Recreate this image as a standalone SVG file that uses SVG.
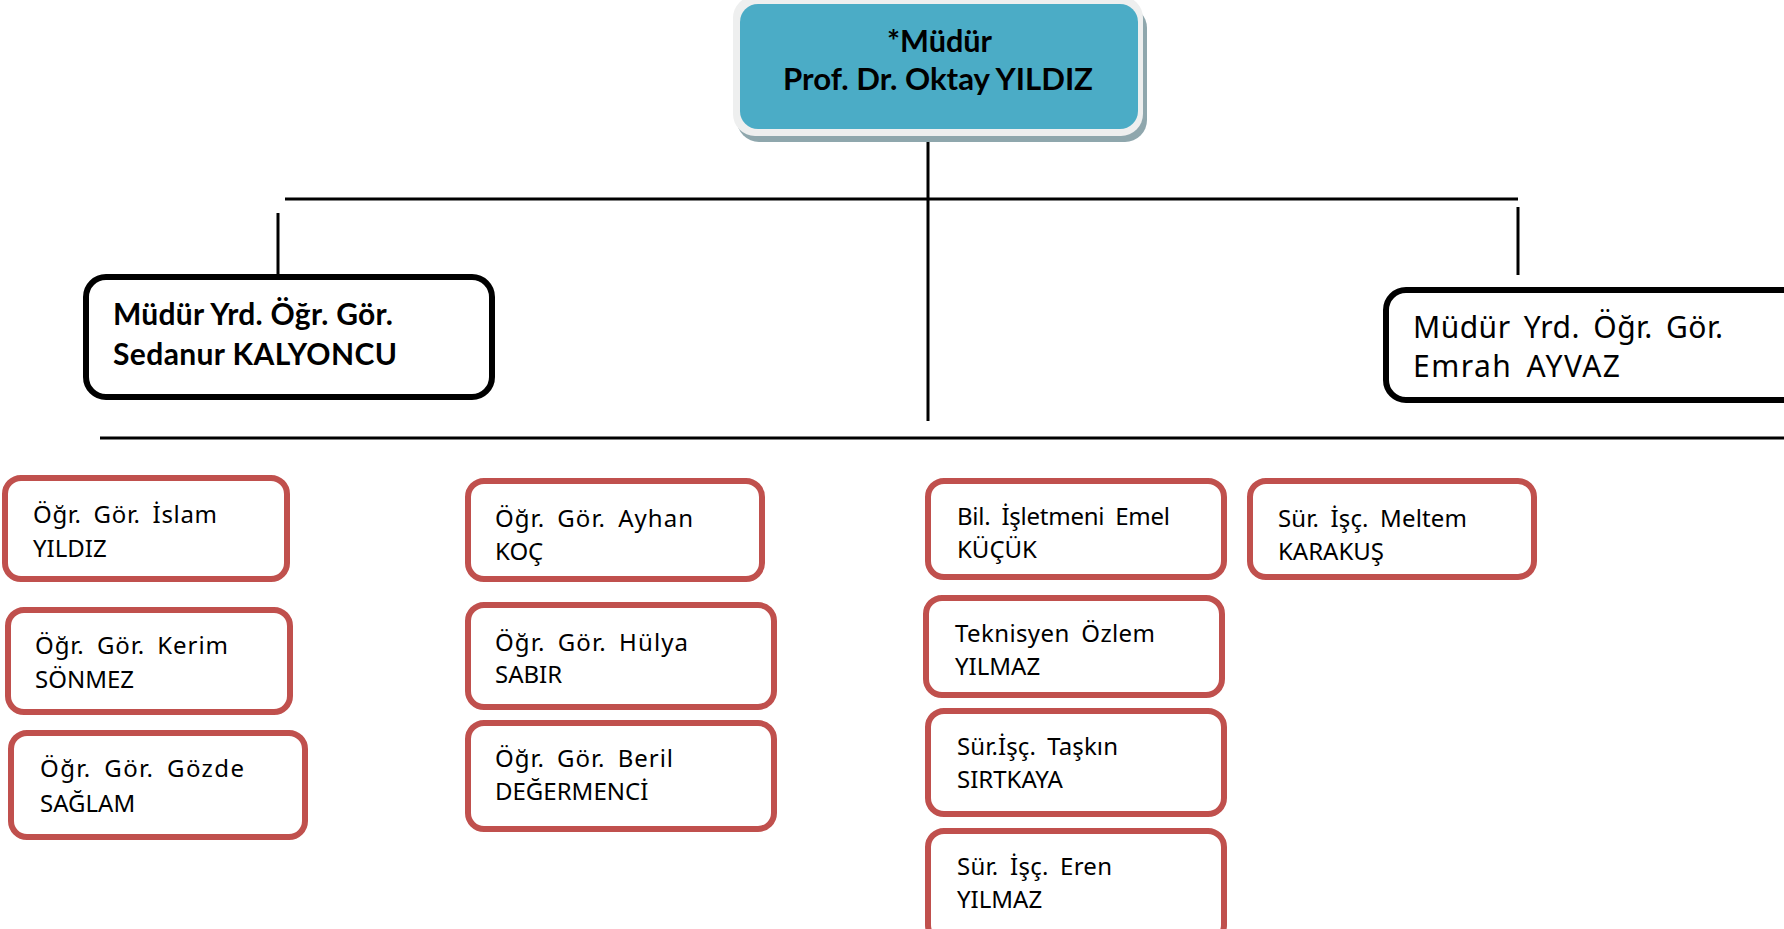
<svg xmlns="http://www.w3.org/2000/svg" width="1784" height="929" viewBox="0 0 1784 929">
<style>
.bg{fill:#ffffff}
.conn line{stroke:#000;stroke-width:3}
.hdr{font-family:"Lato","Liberation Sans",sans-serif;font-weight:bold;font-size:30px;fill:#000}
.yrd{fill:#fff;stroke:#000;stroke-width:6}
.yrdt{font-family:"Lato","Liberation Sans",sans-serif;font-weight:bold;font-size:30px;fill:#000}
.yrdt2{font-family:"Noto Sans","Liberation Sans",sans-serif;font-size:30px;fill:#000;word-spacing:5px}
.box{fill:#fff;stroke:#C0504D;stroke-width:6}
.t{font-family:"Noto Sans","Liberation Sans",sans-serif;font-size:24px;fill:#000;word-spacing:5px}
</style>
<rect class="bg" x="0" y="0" width="1784" height="929"/>
<g id="connectors" class="conn">
<line x1="928" y1="138" x2="928" y2="421"/>
<line x1="285" y1="199" x2="1518" y2="199"/>
<line x1="278" y1="213" x2="278" y2="274"/>
<line x1="1518" y1="207" x2="1518" y2="275"/>
<line x1="100" y1="438" x2="1784" y2="438"/>
</g>
<g id="mudur">
<rect x="737" y="6" width="410" height="136" rx="22" fill="#8FA7AD"/>
<rect x="733" y="-4" width="410" height="140" rx="22" fill="#EEEFEF"/>
<rect x="740" y="4" width="398" height="125" rx="18" fill="#4BACC6"/>
<text class="hdr" x="887" y="52" textLength="105" lengthAdjust="spacingAndGlyphs">*Müdür</text>
<text class="hdr" x="783" y="90" textLength="310" lengthAdjust="spacingAndGlyphs">Prof. Dr. Oktay YILDIZ</text>
</g>
<g id="yrd1">
<rect class="yrd" x="86" y="277" width="406" height="120" rx="20"/>
<text class="yrdt" x="113" y="325" textLength="280">Müdür Yrd. Öğr. Gör.</text>
<text class="yrdt" x="113" y="365" textLength="284">Sedanur KALYONCU</text>
</g>
<g id="yrd2">
<rect class="yrd" x="1386" y="290" width="420" height="110" rx="20"/>
<text class="yrdt2" x="1413" y="338" textLength="310">Müdür Yrd. Öğr. Gör.</text>
<text class="yrdt2" x="1413" y="377" textLength="207">Emrah AYVAZ</text>
</g>
<g id="n1"><rect class="box" x="5" y="478" width="282" height="101" rx="16"/><text class="t" x="33" y="523" textLength="184">Öğr. Gör. İslam</text><text class="t" x="33" y="557">YILDIZ</text></g>
<g id="n2"><rect class="box" x="8" y="610" width="282" height="102" rx="16"/><text class="t" x="35" y="654" textLength="193">Öğr. Gör. Kerim</text><text class="t" x="35" y="688">SÖNMEZ</text></g>
<g id="n3"><rect class="box" x="11" y="733" width="294" height="104" rx="16"/><text class="t" x="40" y="777" textLength="204">Öğr. Gör. Gözde</text><text class="t" x="40" y="812">SAĞLAM</text></g>
<g id="n4"><rect class="box" x="468" y="481" width="294" height="98" rx="16"/><text class="t" x="495" y="527" textLength="198">Öğr. Gör. Ayhan</text><text class="t" x="495" y="560">KOÇ</text></g>
<g id="n5"><rect class="box" x="468" y="605" width="306" height="102" rx="16"/><text class="t" x="495" y="651" textLength="193">Öğr. Gör. Hülya</text><text class="t" x="495" y="683">SABIR</text></g>
<g id="n6"><rect class="box" x="468" y="723" width="306" height="106" rx="16"/><text class="t" x="495" y="767" textLength="178">Öğr. Gör. Beril</text><text class="t" x="495" y="800">DEĞERMENCİ</text></g>
<g id="n7"><rect class="box" x="928" y="481" width="296" height="96" rx="16"/><text class="t" x="957" y="525" textLength="213">Bil. İşletmeni Emel</text><text class="t" x="957" y="558">KÜÇÜK</text></g>
<g id="n8"><rect class="box" x="926" y="598" width="296" height="97" rx="16"/><text class="t" x="955" y="642" textLength="200">Teknisyen Özlem</text><text class="t" x="955" y="675">YILMAZ</text></g>
<g id="n9"><rect class="box" x="928" y="711" width="296" height="103" rx="16"/><text class="t" x="957" y="755" textLength="161">Sür.İşç. Taşkın</text><text class="t" x="957" y="788">SIRTKAYA</text></g>
<g id="n10"><rect class="box" x="928" y="831" width="296" height="110" rx="16"/><text class="t" x="957" y="875" textLength="155">Sür. İşç. Eren</text><text class="t" x="957" y="908">YILMAZ</text></g>
<g id="n11"><rect class="box" x="1250" y="481" width="284" height="96" rx="16"/><text class="t" x="1278" y="527" textLength="189">Sür. İşç. Meltem</text><text class="t" x="1278" y="560">KARAKUŞ</text></g>
</svg>
